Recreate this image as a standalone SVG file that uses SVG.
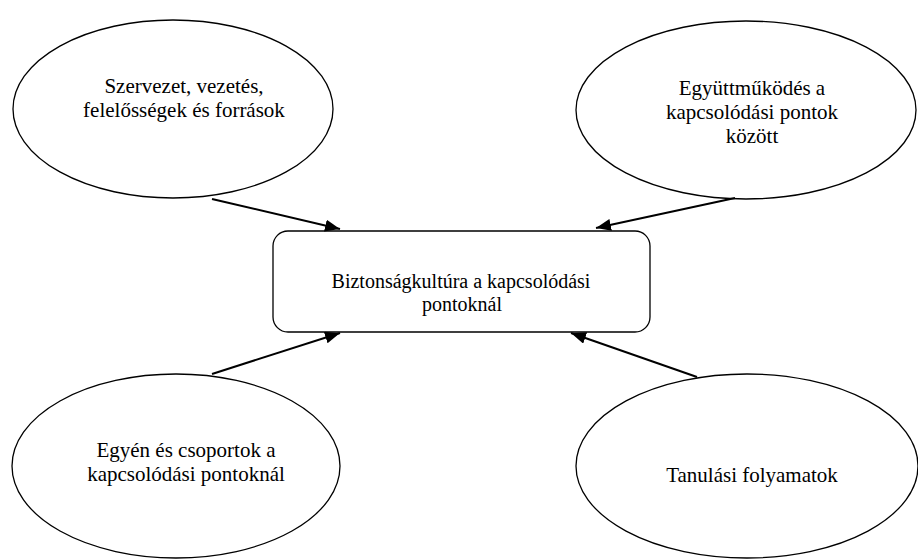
<svg xmlns="http://www.w3.org/2000/svg" width="918" height="559" viewBox="0 0 918 559">
<style>
.shape{fill:#fff;stroke:#000;stroke-width:1.3}
text{font-size:21px;fill:#000;text-anchor:middle}
.c{font-size:20px}
.con{stroke:#000;stroke-width:2;fill:none}
</style>
<defs>
<marker id="ah" viewBox="0 0 15 12" refX="15" refY="6" markerWidth="15" markerHeight="12" markerUnits="userSpaceOnUse" orient="auto">
<path d="M0,0 L15,6 L0,12 z" fill="#000"/>
</marker>
</defs>
<rect width="918" height="559" fill="#fff"/>
<g font-family="Liberation Serif, Times New Roman, serif">
<g id="n1">
<ellipse class="shape" cx="173" cy="109" rx="160" ry="89"/>
<text x="184" y="93">Szervezet, vezetés,</text>
<text x="184" y="117">felelősségek és források</text>
</g>
<g id="n2">
<ellipse class="shape" cx="746" cy="110" rx="170" ry="89"/>
<text x="752" y="95">Együttműködés a</text>
<text x="752" y="119">kapcsolódási pontok</text>
<text x="752" y="143">között</text>
</g>
<g id="center">
<rect class="shape" x="273" y="231" width="377" height="101" rx="15" ry="15"/>
<text class="c" x="461" y="288">Biztonságkultúra a kapcsolódási</text>
<text class="c" x="462" y="311">pontoknál</text>
</g>
<g id="n3">
<ellipse class="shape" cx="176" cy="466" rx="164" ry="92"/>
<text x="186" y="457">Egyén és csoportok a</text>
<text x="186" y="481">kapcsolódási pontoknál</text>
</g>
<g id="n4">
<ellipse class="shape" cx="747" cy="466" rx="171" ry="92"/>
<text x="752" y="482">Tanulási folyamatok</text>
</g>
</g>
<g id="connectors">
<line class="con" x1="212" y1="199" x2="340" y2="229" marker-end="url(#ah)"/>
<line class="con" x1="735" y1="198" x2="596" y2="228" marker-end="url(#ah)"/>
<line class="con" x1="212" y1="374" x2="340" y2="333" marker-end="url(#ah)"/>
<line class="con" x1="697" y1="377" x2="571" y2="333" marker-end="url(#ah)"/>
</g>
</svg>
